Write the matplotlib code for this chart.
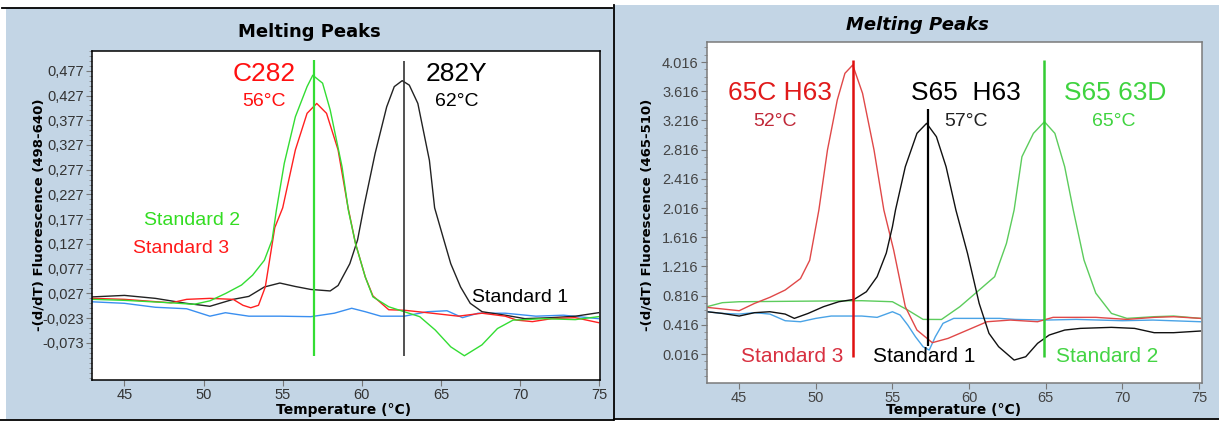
import numpy as np
import matplotlib
matplotlib.use("Agg")
from matplotlib import pyplot as plt
from matplotlib.patches import Rectangle
from matplotlib.lines import Line2D
from matplotlib.ticker import FixedLocator, FuncFormatter

plt.rcParams['font.family'] = ['Liberation Sans', 'DejaVu Sans']

# ---------- левая панель (HFE C282Y) ----------
L_std1_T = [43.0, 45.0, 46.96, 48.9, 50.4, 51.87, 52.86, 53.84, 54.82, 55.8, 56.78, 58.0, 58.5,
            59.24, 59.73, 60.15, 60.84, 61.57, 62.05, 62.55, 63.0, 63.54, 64.27, 64.6, 65.13,
            65.62, 66.24, 66.85, 67.6, 69.06, 70.3, 72.0, 73.5, 74.95]
L_std1_v = [0.020, 0.023, 0.017, 0.007, 0.001, 0.015, 0.021, 0.040, 0.048, 0.041, 0.035, 0.032,
            0.043, 0.087, 0.135, 0.205, 0.310, 0.404, 0.445, 0.457, 0.448, 0.411, 0.296, 0.200,
            0.141, 0.087, 0.040, 0.007, -0.010, -0.017, -0.024, -0.022, -0.019, -0.012]

L_std2_T = [43.0, 45.0, 47.95, 49.4, 50.4, 51.4, 52.4, 53.1, 53.84, 54.33, 54.6, 55.1, 55.8,
            56.54, 56.9, 57.52, 58.0, 58.75, 59.15, 59.6, 60.22, 60.7, 61.7, 62.68, 63.66,
            64.64, 65.62, 66.48, 67.59, 68.57, 69.55, 71.5, 73.48, 74.95]
L_std2_v = [0.015, 0.013, 0.008, 0.005, 0.012, 0.027, 0.044, 0.064, 0.094, 0.135, 0.195, 0.290,
            0.384, 0.445, 0.468, 0.452, 0.398, 0.283, 0.195, 0.128, 0.060, 0.020, 0.0, -0.010,
            -0.020, -0.047, -0.081, -0.099, -0.077, -0.044, -0.027, -0.024, -0.026, -0.020]

L_std3_T = [43.0, 45.0, 47.95, 48.93, 50.4, 51.87, 52.49, 52.98, 53.47, 53.9, 54.2, 54.5, 55.0,
            55.8, 56.54, 57.15, 57.77, 58.5, 59.12, 59.6, 60.22, 60.7, 61.7, 62.68, 64.15,
            66.1, 67.59, 69.06, 69.8, 70.78, 72.0, 73.48, 74.95]
L_std3_v = [0.017, 0.015, 0.008, 0.015, 0.017, 0.015, 0.003, -0.002, 0.003, 0.040, 0.100, 0.160,
            0.200, 0.317, 0.391, 0.411, 0.391, 0.317, 0.202, 0.128, 0.060, 0.022, -0.006, -0.007,
            -0.012, -0.019, -0.013, -0.019, -0.027, -0.030, -0.024, -0.022, -0.032]

L_blank_T = [43.0, 45.0, 46.96, 48.93, 50.4, 51.38, 52.86, 54.82, 56.78, 58.26, 59.36, 60.22,
             61.2, 62.68, 64.15, 65.38, 66.36, 67.34, 69.06, 71.0, 72.74, 74.95]
L_blank_v = [0.010, 0.007, -0.001, -0.004, -0.019, -0.012, -0.019, -0.019, -0.020, -0.013,
             -0.003, -0.010, -0.019, -0.019, -0.010, -0.008, -0.022, -0.013, -0.013, -0.019,
             -0.017, -0.024]

L_peaks = [56.96, 62.68]
L_yticks = [-0.073, -0.023, 0.027, 0.077, 0.127, 0.177, 0.227, 0.277, 0.327, 0.377, 0.427, 0.477]

# ---------- правая панель (HFE H63D / S65C) ----------
R_std1_T = [42.9, 43.9, 45.0, 46.0, 47.0, 48.0, 48.6, 49.5, 50.5, 51.5, 52.5, 53.3, 54.0, 54.6,
            55.0, 55.2, 55.84, 56.6, 57.23, 57.87, 58.5, 59.14, 59.9, 60.66, 61.3, 61.93, 62.94,
            63.7, 64.47, 65.23, 66.24, 67.26, 69.29, 70.8, 72.08, 73.35, 75.1]
R_std1_v = [0.596, 0.573, 0.537, 0.583, 0.596, 0.564, 0.505, 0.573, 0.665, 0.733, 0.765, 0.870,
            1.076, 1.400, 1.761, 1.989, 2.582, 3.039, 3.176, 2.993, 2.582, 1.989, 1.395, 0.710,
            0.300, 0.117, -0.066, -0.020, 0.163, 0.277, 0.345, 0.368, 0.382, 0.368, 0.309, 0.309,
            0.332]

R_std2_T = [42.9, 43.9, 45.0, 50.0, 53.0, 55.0, 56.0, 57.0, 58.2, 59.4, 60.66, 61.67, 62.44,
            62.94, 63.45, 64.2, 64.92, 65.6, 66.24, 66.8, 67.5, 68.27, 69.29, 70.3, 72.08, 73.35,
            75.1]
R_std2_v = [0.665, 0.720, 0.733, 0.742, 0.747, 0.733, 0.619, 0.491, 0.490, 0.665, 0.893, 1.076,
            1.532, 1.989, 2.719, 3.039, 3.198, 3.039, 2.582, 1.989, 1.304, 0.850, 0.573, 0.505,
            0.528, 0.537, 0.505]

R_std3_T = [42.9, 45.0, 46.0, 47.0, 48.0, 49.0, 49.6, 50.2, 50.76, 51.4, 51.9, 52.41, 53.05,
            53.8, 54.44, 55.08, 55.84, 56.6, 57.6, 58.63, 59.9, 61.17, 62.69, 64.47, 65.48, 68.27,
            70.3, 72.08, 73.35, 75.1]
R_std3_v = [0.656, 0.610, 0.710, 0.793, 0.893, 1.050, 1.300, 1.989, 2.810, 3.495, 3.861, 3.975,
            3.587, 2.810, 1.989, 1.441, 0.665, 0.345, 0.172, 0.231, 0.345, 0.459, 0.482, 0.459,
            0.519, 0.519, 0.491, 0.519, 0.528, 0.505]

R_blank_T = [42.9, 43.9, 45.0, 46.0, 47.0, 48.0, 49.0, 50.0, 51.0, 53.0, 54.0, 55.0, 55.5, 56.0,
             56.5, 57.0, 57.4, 57.8, 58.3, 59.0, 62.0, 63.0, 65.0, 67.0, 70.0, 72.0, 75.1]
R_blank_v = [0.596, 0.573, 0.564, 0.583, 0.564, 0.473, 0.459, 0.505, 0.537, 0.537, 0.519, 0.596,
             0.551, 0.414, 0.254, 0.117, 0.071, 0.254, 0.437, 0.505, 0.505, 0.491, 0.482, 0.491,
             0.473, 0.482, 0.459]

R_peaks = [52.41, 57.3, 64.92]
R_yticks = [0.016, 0.416, 0.816, 1.216, 1.616, 2.016, 2.416, 2.816, 3.216, 3.616, 4.016]

x_ticks = [45, 50, 55, 60, 65, 70, 75]

W, H = 1219, 421
BG = '#c3d5e5'


def px(x0, y0, x1, y1):  # пиксели -> доли фигуры
    return [x0 / W, 1 - y1 / H, (x1 - x0) / W, (y1 - y0) / H]


fig = plt.figure(figsize=(W / 100, H / 100), dpi=100)
fig.patch.set_facecolor('white')

# фоновые панели
fig.patches.append(Rectangle((6 / W, 1 - 419 / H), 607 / W, 411 / H, transform=fig.transFigure,
                             facecolor=BG, edgecolor='none', zorder=-5))
fig.patches.append(Rectangle((614 / W, 1 - 418 / H), 605 / W, 413 / H, transform=fig.transFigure,
                             facecolor=BG, edgecolor='none', zorder=-5))
for xs, ys in [([2, 612], [7.5, 7.5]), ([0, 613], [419.5, 419.5]),
               ([614, 614], [5, 419.5]), ([614, 1219], [419, 419])]:
    fig.lines.append(Line2D([x / W for x in xs], [1 - y / H for y in ys],
                            transform=fig.transFigure, color='black', lw=1.3, zorder=-4))


def setup_axes(ax, yticks, fmt, edge, tick_col):
    ax.set_facecolor('white')
    ax.xaxis.set_major_locator(FixedLocator(x_ticks))
    ax.yaxis.set_major_locator(FixedLocator(yticks))
    ax.yaxis.set_major_formatter(FuncFormatter(fmt))
    ax.tick_params(axis='both', which='major', direction='out', length=4, width=0.8,
                   colors='#777777', labelcolor=tick_col, labelsize=10.5, pad=2)
    ax.tick_params(axis='y', which='minor', direction='out', length=2, width=0.6, colors='#888888')
    for s in ax.spines.values():
        s.set_color(edge)
        s.set_linewidth(1.1)


# ===== левый график =====
ax1 = fig.add_axes(px(92, 51, 600, 380))
ax1.plot(L_blank_T, L_blank_v, color='#3a8ff0', lw=1.0)
ax1.plot(L_std1_T, L_std1_v, color='#222222', lw=1.0)
ax1.plot(L_std3_T, L_std3_v, color='#ff2020', lw=1.0)
ax1.plot(L_std2_T, L_std2_v, color='#33dd33', lw=1.0)
ax1.vlines(L_peaks[0], -0.099, 0.499, color='#33dd33', lw=1.6)
ax1.vlines(L_peaks[1], -0.100, 0.497, color='#333333', lw=1.2)
ax1.set_xlim(42.95, 75.05)
ax1.set_ylim(-0.148, 0.517)
setup_axes(ax1, L_yticks, lambda v, p: f"{v:.3f}".replace('.', ','), 'black', '#333333')
ax1.yaxis.set_minor_locator(FixedLocator(np.round(np.arange(-0.143, 0.52, 0.01), 3)))

ax1.text(53.84, 0.470, 'C282', color='#ff1010', fontsize=19, ha='center', va='center')
ax1.text(53.84, 0.414, '56°C', color='#ff1010', fontsize=14, ha='center', va='center')
ax1.text(65.95, 0.470, '282Y', color='black', fontsize=19, ha='center', va='center')
ax1.text(66.0, 0.414, '62°C', color='black', fontsize=14, ha='center', va='center')
ax1.text(49.3, 0.175, 'Standard 2', color='#33dd22', fontsize=14, ha='center', va='center')
ax1.text(48.6, 0.118, 'Standard 3', color='#ff1a1a', fontsize=14, ha='center', va='center')
ax1.text(69.97, 0.019, 'Standard 1', color='black', fontsize=14, ha='center', va='center')

fig.text(309 / W, 1 - 32 / H, 'Melting Peaks', fontsize=13, fontweight='heavy',
         family='DejaVu Sans', ha='center', va='center')
fig.text(344 / W, 1 - 410 / H, 'Temperature (°C)', fontsize=10, fontweight='bold',
         family='DejaVu Sans', ha='center', va='center')
fig.text(39 / W, 1 - 215 / H, '-(d/dT) Fluorescence (498-640)', fontsize=9.5, fontweight='bold',
         family='DejaVu Sans', rotation=90, ha='center', va='center')

# ===== правый график =====
ax2 = fig.add_axes(px(707, 42, 1202, 383))
ax2.plot(R_blank_T, R_blank_v, color='#4aa3e6', lw=1.0)
ax2.plot(R_std2_T, R_std2_v, color='#5ccc5c', lw=1.0)
ax2.plot(R_std3_T, R_std3_v, color='#e04848', lw=1.0)
ax2.plot(R_std1_T, R_std1_v, color='#111111', lw=1.0)
ax2.vlines(R_peaks[0], -0.02, 4.05, color='#e01010', lw=1.8)
ax2.vlines(R_peaks[1], 0.13, 3.37, color='black', lw=1.6)
ax2.vlines(R_peaks[2], -0.02, 4.04, color='#33cc33', lw=1.8)
ax2.set_xlim(42.9, 75.2)
ax2.set_ylim(-0.38, 4.29)
setup_axes(ax2, R_yticks, lambda v, p: f"{v:.3f}", '#7a7a7a', '#444444')
ax2.yaxis.set_minor_locator(FixedLocator(np.round(np.arange(-0.284, 4.29, 0.1), 3)))

ax2.text(47.64, 3.587, '65C H63', color='#e01a1a', fontsize=19, ha='center', va='center')
ax2.text(47.33, 3.198, '52°C', color='#c02838', fontsize=14, ha='center', va='center')
ax2.text(59.77, 3.587, 'S65  H63', color='black', fontsize=19, ha='center', va='center')
ax2.text(59.77, 3.198, '57°C', color='#222222', fontsize=14, ha='center', va='center')
ax2.text(69.54, 3.587, 'S65 63D', color='#3fd33f', fontsize=19, ha='center', va='center')
ax2.text(69.42, 3.198, '65°C', color='#3fd33f', fontsize=14, ha='center', va='center')
ax2.text(48.43, -0.02, 'Standard 3', color='#d83040', fontsize=15, ha='center', va='center')
ax2.text(57.06, -0.02, 'Standard 1', color='black', fontsize=15, ha='center', va='center')
ax2.text(68.98, -0.02, 'Standard 2', color='#44d444', fontsize=15, ha='center', va='center')

fig.text(917 / W, 1 - 25 / H, 'Melting Peaks', fontsize=13, fontweight='heavy', style='italic',
         family='DejaVu Sans', ha='center', va='center')
fig.text(954 / W, 1 - 410 / H, 'Temperature (°C)', fontsize=10, fontweight='bold',
         family='DejaVu Sans', ha='center', va='center')
fig.text(647 / W, 1 - 215 / H, '-(d/dT) Fluorescence (465-510)', fontsize=9.5, fontweight='bold',
         family='DejaVu Sans', rotation=90, ha='center', va='center')

fig.savefig('out.png', dpi=100, facecolor=fig.get_facecolor())
